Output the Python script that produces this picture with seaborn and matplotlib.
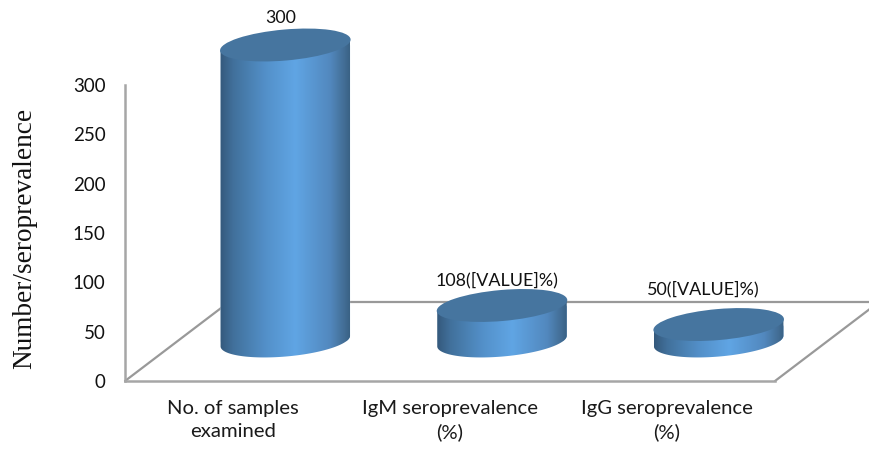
import matplotlib
matplotlib.use("Agg")
import matplotlib.pyplot as plt
import numpy as np
import pandas as pd
import seaborn as sns
from matplotlib.colors import LinearSegmentedColormap
from matplotlib.patches import Ellipse, PathPatch
from matplotlib.path import Path
from matplotlib.transforms import IdentityTransform

categories = ["No. of samples\nexamined", "IgM seroprevalence\n(%)", "IgG seroprevalence\n(%)"]
values = [300, 36, 16.7]
value_labels = ["300", "108([VALUE]%)", "50([VALUE]%)"]
y_ticks = [0, 50, 100, 150, 200, 250, 300]

W, H = 870, 449
GREY = "#a6a6a6"
TOP_BLUE = "#46759f"

sns.set_style("white")
plt.rcParams["font.family"] = ["Lato", "DejaVu Sans"]

body_cmap = LinearSegmentedColormap.from_list(
    "cyl",
    [(0, "#34597c"), (0.1, "#41709b"), (0.35, "#5390c9"), (0.58, "#60a5e4"),
     (0.85, "#5288be"), (0.96, "#426d94"), (1, "#3a6285")],
)


def px_axes(fig, left, right, top, bottom):
    # axes box given in image pixels, y counted from the top
    return fig.add_axes([left / W, 1 - bottom / H, (right - left) / W, (bottom - top) / H])


fig = plt.figure(figsize=(W / 100, H / 100), dpi=100)

# front axes: y scale, category labels, floor
ax = px_axes(fig, 125, 775, 85, 381)
ax.set_xlim(-0.5, 2.5)
ax.set_ylim(0, 300)
ax.set_xticks(range(3), categories, fontsize=14.6, color="#1a1a1a", linespacing=1.4)
ax.set_yticks(y_ticks, y_ticks, fontsize=13.5, color="#111111")
ax.tick_params(axis="both", length=0)
ax.tick_params(axis="y", pad=14)
ax.tick_params(axis="x", pad=14)
sns.despine(ax=ax)
for side in ["left", "bottom"]:
    ax.spines[side].set_color(GREY)
    ax.spines[side].set_linewidth(1.8)
ax.set_ylabel("Number/seroprevalence", family="Liberation Serif", fontsize=19.6, color="#111111")
ax.yaxis.set_label_coords(-88 / 650, 0.48)

# floor of the 3D box, in axes fractions
depth_x, depth_y = 104 / 650, 79 / 296
floor_kw = dict(transform=ax.transAxes, clip_on=False, color="#999999", lw=1.6)
ax.plot([0, depth_x], [0, depth_y], **floor_kw)
ax.plot([1, 1 + depth_x], [0, depth_y], **floor_kw)
ax.plot([depth_x, 1 + depth_x], [depth_y, depth_y], **floor_kw)

# bars sit on the middle of the floor, so they get their own shifted axes
bar_ax = px_axes(fig, 177, 827, 45, 341)
bar_ax.patch.set_alpha(0)
data = pd.DataFrame({"category": categories, "value": values})
sns.barplot(data=data, x="category", y="value", ax=bar_ax, width=0.6, color="#5390c9", saturation=1)
bar_ax.set_xlim(-0.5, 2.5)
bar_ax.set_ylim(0, 300)
bar_ax.axis("off")
fig.canvas.draw()

half_h = 15.5
tilt = np.deg2rad(5)
t = np.linspace(np.pi, 2 * np.pi, 80)
gradient = np.linspace(0, 1, 256).reshape(1, -1)

label_offsets = [(-5, 19), (-5, 17), (-15, 27)]

for bar, label, offset in zip(bar_ax.patches, value_labels, label_offsets):
    x0, y0 = bar_ax.transData.transform((bar.get_x(), 0))
    x1, y1 = bar_ax.transData.transform((bar.get_x() + bar.get_width(), bar.get_height()))
    cx = (x0 + x1) / 2
    half_w = (x1 - x0) / 2

    # outline of the side: bottom half ellipse up to the top ellipse, tilted
    ex = half_w * np.cos(t) * np.cos(tilt) - half_h * np.sin(t) * np.sin(tilt)
    ey = half_w * np.cos(t) * np.sin(tilt) + half_h * np.sin(t) * np.cos(tilt)
    side_x = np.r_[cx + ex, cx + ex[-1], cx + ex[0]]
    side_y = np.r_[y0 + ey, y1 + ey[-1], y1 + ey[0]]
    side = PathPatch(Path(np.c_[side_x, side_y]), transform=IdentityTransform())

    bar.set_clip_path(side)
    bar.set_clip_box(fig.bbox)

    left, right = bar.get_x(), bar.get_x() + bar.get_width()
    low = bar_ax.transData.inverted().transform((x0, y0 - 40))[1]
    img = bar_ax.imshow(gradient, cmap=body_cmap, aspect="auto", zorder=2,
                        extent=[left, right, low, bar.get_height() + 5])
    img.set_clip_path(side)
    img.set_clip_box(fig.bbox)

    bar_ax.add_patch(Ellipse((cx, y1), 2 * half_w + 1, 2 * half_h, angle=np.rad2deg(tilt),
                             transform=IdentityTransform(), facecolor=TOP_BLUE,
                             edgecolor="none", zorder=3, clip_on=False))
    bar_ax.annotate(label, (cx, y1), xycoords="figure pixels", xytext=offset,
                    textcoords="offset pixels", ha="center", va="bottom",
                    fontsize=12.9, color="#111111", zorder=1, annotation_clip=False)

bar_ax.set_xlim(-0.5, 2.5)
bar_ax.set_ylim(0, 300)

fig.savefig("out.png", dpi=100)
